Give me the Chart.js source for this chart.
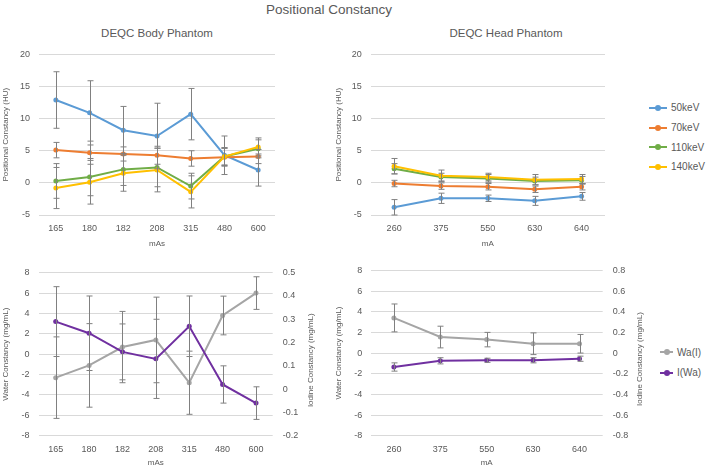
<!DOCTYPE html>
<html>
<head>
<meta charset="utf-8">
<script src="https://cdn.jsdelivr.net/npm/chart.js@4.4.1/dist/chart.umd.min.js"></script>
<style>
body { margin: 0; background: #fff; width: 709px; height: 468px; position: relative; overflow: hidden;
       font-family: 'Liberation Sans', Arial, sans-serif; color: #595959; }
.box { position: absolute; }
.ttl { position: absolute; white-space: nowrap; transform: translate(-50%, -50%); }
.legend { position: absolute; font-size: 10px; }
.legend div { display: flex; align-items: center; }
.mk { position: relative; height: 2px; margin-right: 4px; }
.mk i { position: absolute; left: 50%; top: -2px; margin-left: -3px; width: 6px; height: 6px; border-radius: 50%; background: inherit; }
</style>
</head>
<body>
<div class="ttl" style="left:329px;top:9px;font-size:13.5px">Positional Constancy</div>
<div class="ttl" style="left:157px;top:33px;font-size:11.5px">DEQC Body Phantom</div>
<div class="ttl" style="left:506px;top:33px;font-size:11.5px">DEQC Head Phantom</div>

<div class="box" style="left:0;top:40px"><canvas id="bodyPos" width="290" height="215"></canvas></div>
<div class="box" style="left:330px;top:40px"><canvas id="headPos" width="285" height="215"></canvas></div>
<div class="box" style="left:0;top:255px"><canvas id="bodyMat" width="330" height="213"></canvas></div>
<div class="box" style="left:330px;top:255px"><canvas id="headMat" width="315" height="213"></canvas></div>

<div class="legend" id="legTop" style="left:649px;top:98px"></div>
<div class="legend" id="legBot" style="left:660px;top:342px"></div>

<script>
// categories
const bodyMAs = ['165', '180', '182', '208', '315', '480', '600'];
const headMA = ['260', '375', '550', '630', '640'];
const kevLabels = ['50keV', '70keV', '110keV', '140keV'];
const matLabels = ['Wa(I)', 'I(Wa)'];

// body phantom, positional constancy (HU) and error bars
const body50 = [12.9, 10.9, 8.2, 7.3, 10.7, 4.3, 2.0];
const body50Err = [4.4, 5.0, 3.7, 5.1, 4.0, 3.0, 2.5];
const body70 = [5.1, 4.7, 4.5, 4.3, 3.8, 4.0, 4.1];
const body70Err = [1.2, 1.8, 1.1, 1.4, 1.2, 1.4, 1.1];
const body110 = [0.3, 0.9, 2.1, 2.4, -0.5, 4.1, 5.3];
const body110Err = [2.7, 2.9, 2.5, 3.0, 2.0, 1.3, 1.4];
const body140 = [-0.8, 0.1, 1.5, 2.0, -1.4, 4.1, 5.6];
const body140Err = [3.2, 3.4, 2.8, 3.4, 2.5, 1.4, 1.4];

// head phantom
const head50 = [-3.8, -2.4, -2.4, -2.8, -2.1];
const head50Err = [1.2, 0.8, 0.5, 0.7, 0.6];
const head70 = [-0.1, -0.5, -0.6, -1.0, -0.6];
const head70Err = [0.5, 0.5, 0.5, 0.5, 0.5];
const head110 = [2.2, 0.9, 0.7, 0.3, 0.4];
const head110Err = [0.8, 0.6, 0.6, 0.6, 0.6];
const head140 = [2.6, 1.1, 0.9, 0.5, 0.6];
const head140Err = [1.2, 0.9, 0.6, 0.8, 0.7];

// material constancy: water (mg/mL, left axis) and iodine (mg/mL, right axis)
const bodyWater = [-2.3, -1.1, 0.7, 1.4, -2.8, 3.8, 6.0];
const bodyWaterErr = [4.0, 4.1, 3.5, 4.2, 3.1, 1.9, 1.6];
const bodyIodine = [0.29, 0.24, 0.16, 0.13, 0.27, 0.02, -0.06];
const bodyIodineErr = [0.15, 0.16, 0.12, 0.17, 0.13, 0.08, 0.07];
const headWater = [3.4, 1.55, 1.3, 0.9, 0.9];
const headWaterErr = [1.35, 1.05, 0.7, 1.05, 0.9];
const headIodine = [-0.135, -0.075, -0.07, -0.07, -0.055];
const headIodineErr = [0.04, 0.03, 0.02, 0.025, 0.025];

const kevColors = ['#5b9bd5', '#ed7d31', '#70ad47', '#ffc000'];
const matColors = ['#a5a5a5', '#7030a0'];

const fontFamily = "'Liberation Sans', Arial, sans-serif";
Chart.defaults.font.family = fontFamily;
Chart.defaults.color = '#595959';

// vertical error bars, placed with the chart's own scales
const errorBars = {
    id: 'errorBars',
    afterDatasetsDraw(chart) {
        const ctx = chart.ctx;
        chart.data.datasets.forEach((ds, i) => {
            if (!ds.errors) return;
            const meta = chart.getDatasetMeta(i);
            const ys = chart.scales[meta.yAxisID];
            ctx.save();
            ctx.strokeStyle = '#808080';
            ctx.lineWidth = 1;
            meta.data.forEach((pt, j) => {
                const x = Math.round(pt.x) + 0.5;
                const top = ys.getPixelForValue(ds.data[j] + ds.errors[j]);
                const bot = ys.getPixelForValue(ds.data[j] - ds.errors[j]);
                ctx.beginPath();
                ctx.moveTo(x, top); ctx.lineTo(x, bot);
                ctx.moveTo(x - 3, top); ctx.lineTo(x + 3, top);
                ctx.moveTo(x - 3, bot); ctx.lineTo(x + 3, bot);
                ctx.stroke();
            });
            ctx.restore();
        });
    }
};

// secondary axis title, reading bottom to top like the primary one
const sideTitle = {
    id: 'sideTitle',
    afterDraw(chart, args, opts) {
        if (!opts.text) return;
        const s = chart.scales.y1, ctx = chart.ctx;
        ctx.save();
        ctx.translate(s.right - 5, (chart.chartArea.top + chart.chartArea.bottom) / 2 + 6);
        ctx.rotate(-Math.PI / 2);
        ctx.font = '8px ' + fontFamily;
        ctx.fillStyle = '#595959';
        ctx.textAlign = 'center';
        ctx.textBaseline = 'middle';
        ctx.fillText(opts.text, 0, 0);
        ctx.restore();
    }
};

function lineSet(label, data, errors, color, order, axis) {
    return {
        label: label, data: data, errors: errors,
        borderColor: color, backgroundColor: color,
        borderWidth: 2, pointRadius: 2.5, pointBorderWidth: 0,
        order: order, yAxisID: axis || 'y', tension: 0
    };
}

function xScale(title, titlePad) {
    return {
        offset: true,
        ticks: { padding: 8, font: { size: 9 }, maxRotation: 0, autoSkip: false },
        grid: { display: false, drawTicks: false },
        border: { display: false },
        title: { display: true, text: title, font: { size: 8 }, padding: { top: 0, bottom: titlePad } }
    };
}

function yScale(min, max, step, title, width, pad, tpad) {
    return {
        position: 'left', min: min, max: max,
        ticks: { stepSize: step, padding: pad, font: { size: 9 } },
        grid: { color: '#d9d9d9', drawTicks: false },
        border: { display: false },
        title: { display: true, text: title, font: { size: 8 }, padding: { top: tpad, bottom: 0 } },
        afterFit: s => { s.width = width; }
    };
}

function y1Scale(min, max, step, width) {
    return {
        position: 'right', min: min, max: max,
        ticks: {
            stepSize: step, padding: 10, font: { size: 9 },
            callback: v => String(Math.round(v * 10) / 10)
        },
        grid: { display: false, drawTicks: false },
        border: { display: false },
        afterFit: s => { s.width = width; }
    };
}

function makeChart(id, labels, datasets, scales, padding, xHeight, rightTitle) {
    scales.x.afterFit = s => { s.height = xHeight; };
    return new Chart(document.getElementById(id), {
        type: 'line',
        data: { labels: labels, datasets: datasets },
        options: {
            responsive: false,
            animation: false,
            devicePixelRatio: 1,
            layout: { padding: padding, autoPadding: false },
            scales: scales,
            plugins: {
                legend: { display: false },
                tooltip: { enabled: false },
                sideTitle: { text: rightTitle || '' }
            }
        },
        plugins: [errorBars, sideTitle]
    });
}

makeChart('bodyPos', bodyMAs, [
    lineSet(kevLabels[0], body50, body50Err, kevColors[0], 4),
    lineSet(kevLabels[1], body70, body70Err, kevColors[1], 3),
    lineSet(kevLabels[2], body110, body110Err, kevColors[2], 2),
    lineSet(kevLabels[3], body140, body140Err, kevColors[3], 1)
], {
    x: xScale('mAs', 6.5),
    y: yScale(-5, 20, 5, 'Positional Constancy (HU)', 39, 9, 1)
}, { top: 11.7, right: 15, left: 0, bottom: 0 }, 40);

makeChart('headPos', headMA, [
    lineSet(kevLabels[0], head50, head50Err, kevColors[0], 4),
    lineSet(kevLabels[1], head70, head70Err, kevColors[1], 3),
    lineSet(kevLabels[2], head110, head110Err, kevColors[2], 2),
    lineSet(kevLabels[3], head140, head140Err, kevColors[3], 1)
], {
    x: xScale('mA', 6.5),
    y: yScale(-5, 20, 5, 'Positional Constancy (HU)', 40.7, 9, 3.5)
}, { top: 11.7, right: 10, left: 0, bottom: 0 }, 40);

makeChart('bodyMat', bodyMAs, [
    lineSet(matLabels[0], bodyWater, bodyWaterErr, matColors[0], 2, 'y'),
    lineSet(matLabels[1], bodyIodine, bodyIodineErr, matColors[1], 1, 'y1')
], {
    x: xScale('mAs', 0.5),
    y: yScale(-8, 8, 2, 'Water Constancy (mg/mL)', 39, 9.5, 1),
    y1: y1Scale(-0.2, 0.5, 0.1, 43)
}, { top: 17.7, right: 14.3, left: 0, bottom: 0 }, 32.3, 'Iodine Constancy (mg/mL)');

makeChart('headMat', headMA, [
    lineSet(matLabels[0], headWater, headWaterErr, matColors[0], 2, 'y'),
    lineSet(matLabels[1], headIodine, headIodineErr, matColors[1], 1, 'y1')
], {
    x: xScale('mA', 0.5),
    y: yScale(-8, 8, 2, 'Water Constancy (mg/mL)', 40.7, 8.5, 3.5),
    y1: y1Scale(-0.8, 0.8, 0.2, 42)
}, { top: 15, right: 0.3, left: 0, bottom: 0 }, 32.3, 'Iodine Constancy (mg/mL)');

// html legends
function buildLegend(id, labels, colors, rowH, lineW) {
    const el = document.getElementById(id);
    labels.forEach((lab, i) => {
        const row = document.createElement('div');
        row.style.height = rowH + 'px';
        row.innerHTML = '<span class="mk" style="width:' + lineW + 'px;background:' + colors[i] + '"><i></i></span>' + lab;
        el.appendChild(row);
    });
}
buildLegend('legTop', kevLabels, kevColors, 19.7, 18);
buildLegend('legBot', matLabels, matColors, 20.6, 13);
</script>
</body>
</html>
